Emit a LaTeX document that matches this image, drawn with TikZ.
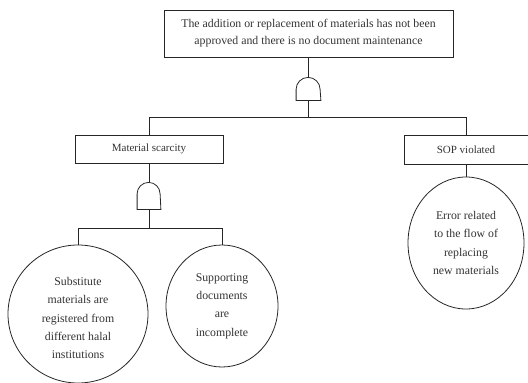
\documentclass[tikz,border=0pt]{standalone}
\usepackage{fontspec}
\setmainfont{Liberation Serif}
\usetikzlibrary{shapes.geometric}
\begin{document}
\begin{tikzpicture}[x=1pt,y=-1pt,
  line width=0.8pt, draw=black!85,
  every node/.style={text=black!80, inner sep=0pt},
  evbox/.style={draw, rectangle, align=center},
  basic/.style={draw, ellipse, align=center, font=\fontsize{11.8}{18.4}\selectfont},
  gatebox/.style={rectangle, minimum width=24pt, minimum height=23pt},
  wire/.style={draw=black!85, line width=0.8pt}
]
\useasboundingbox (0,0) rectangle (528,383);

\node[evbox, minimum width=289pt, minimum height=47pt, font=\fontsize{11.8}{16.8}\selectfont] (top) at (308.5,33.5)
  {The addition or replacement of materials has not been\\approved and there is no document maintenance};
\node[gatebox] (g1) at (308.5,88.5) {};
\node[evbox, minimum width=148pt, minimum height=28pt, font=\fontsize{11}{12}\selectfont] (ms) at (149,149) {Material scarcity};
\node[evbox, minimum width=124pt, minimum height=29pt, font=\fontsize{11}{12}\selectfont] (sop) at (466,149.5) {SOP violated};
\node[gatebox, minimum height=27pt, minimum width=23pt] (g2) at (149,195.5) {};

\node[basic, minimum width=140pt, minimum height=138pt] (c1) at (78,314) {};
\node[align=center, font=\fontsize{11.8}{18.4}\selectfont] (t1) at (c1.center) [yshift=-4pt]
  {Substitute\\materials are\\registered from\\different halal\\institutions};
\node[basic, minimum width=112pt, minimum height=122pt] (c2) at (222,306)
  {Supporting\\documents\\are\\incomplete};
\node[basic, minimum width=116pt, minimum height=132pt] (c3) at (466,243)
  {Error related\\to the flow of\\replacing\\new materials};

% AND gates
\draw[wire] (g1.south west) -- ++(0pt,11pt) arc[start angle=180,end angle=0,radius=12pt] -- (g1.south east) -- cycle;
\draw[wire] (g2.south west) -- ++(0pt,15.5pt) arc[start angle=180,end angle=0,radius=11.5pt] -- (g2.south east) -- cycle;

\coordinate (j1) at (308.5,117);
\coordinate (j2) at (149,228);

\draw[wire] (top.south) -- (g1.north);
\draw[wire] (g1.south) -- (j1);
\draw[wire] (ms.north) |- (j1);
\draw[wire] (j1) -| (sop.north);
\draw[wire] (ms.south) -- (g2.north);
\draw[wire] (g2.south) -- (j2);
\draw[wire] (c1.north) |- (j2);
\draw[wire] (j2) -| (c2.north);
\draw[wire] (sop.south) -- (c3.north);
\end{tikzpicture}
\end{document}
